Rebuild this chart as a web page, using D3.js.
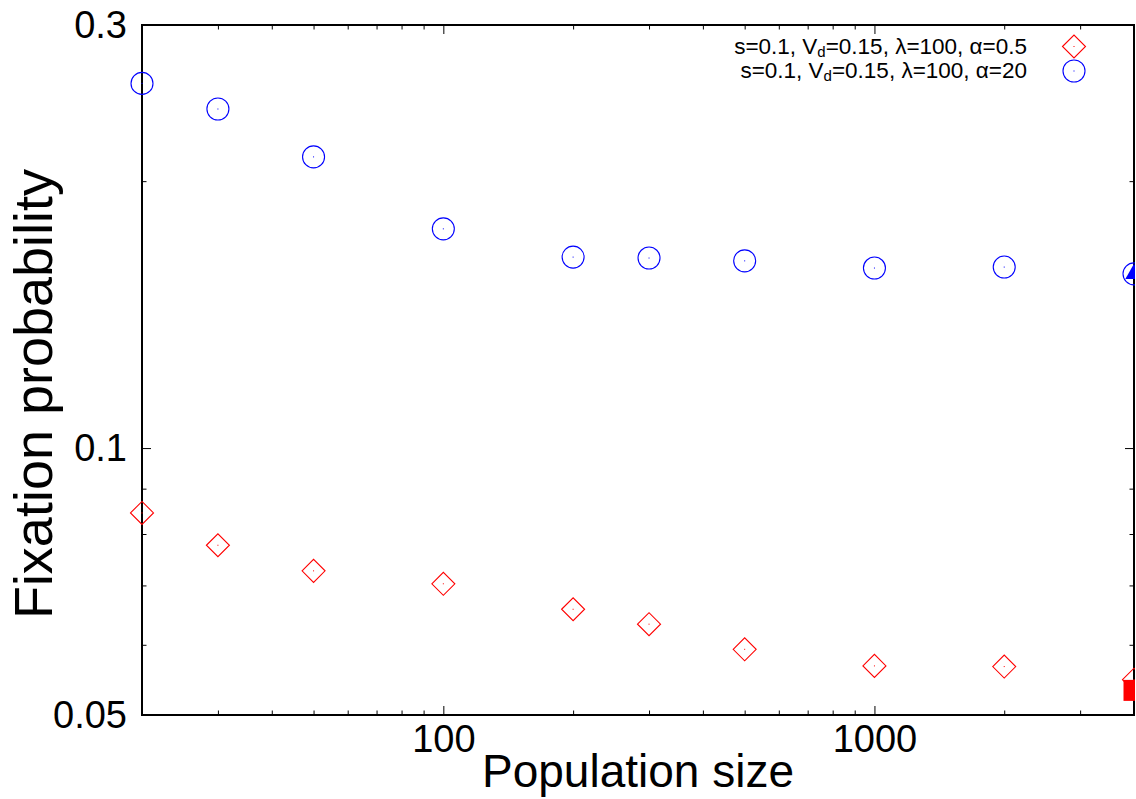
<!DOCTYPE html>
<html>
<head>
<meta charset="utf-8">
<script src="https://cdn.jsdelivr.net/npm/d3@7"></script>
<style>
  body { margin: 0; background: #fff; }
  text { font-family: "Liberation Sans", Arial, Helvetica, sans-serif; fill: #000; }
</style>
</head>
<body>
<svg id="chart" width="1136" height="799"></svg>
<script>
// Fixation probability versus population size (log-log)
const populationSizes = [20, 30, 50, 100, 200, 300, 500, 1000, 2000, 4000];
const fixAlpha05 = [0.0845, 0.0777, 0.0727, 0.0703, 0.0658, 0.0633, 0.0593, 0.0568, 0.0567, 0.0548];
const fixAlpha20 = [0.2578, 0.2412, 0.2130, 0.1767, 0.1642, 0.1638, 0.1626, 0.1596, 0.1600, 0.1572];

// large-population values drawn at the right edge
const limitN = [4000];
const limitAlpha05 = [0.0533];
const limitAlpha20 = [0.1572];

const xMajorTicks = [100, 1000];
const xMinorTicks = [20, 30, 40, 50, 60, 70, 80, 90, 200, 300, 400, 500, 600, 700, 800, 900, 2000, 3000, 4000];
const yMajorTicks = [0.05, 0.1, 0.3];
const yMinorTicks = [0.06, 0.07, 0.08, 0.09, 0.2];

const legendAlpha05 = ["s=0.1, V", "d", "=0.15, λ=100, α=0.5"];
const legendAlpha20 = ["s=0.1, V", "d", "=0.15, λ=100, α=20"];

const xLabel = "Population size";
const yLabel = "Fixation probability";

const RED = "#ff0000", BLUE = "#0000ff";

const svg = d3.select("#chart");
const plot = { left: 142, right: 1134, top: 25, bottom: 715 };

const x = d3.scaleLog().domain([20, 4000]).range([plot.left, plot.right]);
const y = d3.scaleLog().domain([0.05, 0.3]).range([plot.bottom, plot.top]);

// ---- ticks (inward, mirrored on top/right) ----
function tickAxis(axisFn, scale, values, size, translate, labels, pad) {
  const ax = axisFn(scale).tickValues(values).tickSize(-size).tickPadding(pad || 0)
    .tickFormat(labels ? d3.format("") : () => "");
  const g = svg.append("g").attr("transform", translate).call(ax);
  g.select(".domain").remove();
  g.selectAll(".tick line").attr("stroke", "#000").attr("stroke-width", 1);
  return g;
}

const MAJ = 9, MIN = 4.5;
const xb = tickAxis(d3.axisBottom, x, xMajorTicks, MAJ, `translate(0,${plot.bottom})`, true, 10);
tickAxis(d3.axisBottom, x, xMinorTicks, MIN, `translate(0,${plot.bottom})`, false);
tickAxis(d3.axisTop, x, xMajorTicks, MAJ, `translate(0,${plot.top})`, false);
tickAxis(d3.axisTop, x, xMinorTicks, MIN, `translate(0,${plot.top})`, false);

const yl = tickAxis(d3.axisLeft, y, yMajorTicks, MAJ, `translate(${plot.left},0)`, true, 15);
tickAxis(d3.axisLeft, y, yMinorTicks, MIN, `translate(${plot.left},0)`, false);
tickAxis(d3.axisRight, y, yMajorTicks, MAJ, `translate(${plot.right},0)`, false);
tickAxis(d3.axisRight, y, yMinorTicks, MIN, `translate(${plot.right},0)`, false);

xb.selectAll(".tick text").attr("font-size", 38).attr("font-family", '"Liberation Sans", Arial, sans-serif').attr("fill", "#000");
yl.selectAll(".tick text").attr("font-size", 38).attr("font-family", '"Liberation Sans", Arial, sans-serif').attr("fill", "#000")
  .text(d => d3.format("")(d));

// ---- frame ----
svg.append("rect")
  .attr("x", plot.left).attr("y", plot.top)
  .attr("width", plot.right - plot.left).attr("height", plot.bottom - plot.top)
  .attr("fill", "none").attr("stroke", "#000").attr("stroke-width", 2);

// ---- axis titles ----
svg.append("text")
  .attr("x", 638).attr("y", 787)
  .attr("text-anchor", "middle").attr("font-size", 46)
  .text(xLabel);

svg.append("text")
  .attr("transform", "translate(52,394) rotate(-90)")
  .attr("text-anchor", "middle").attr("font-size", 54)
  .text(yLabel);

// ---- markers ----
svg.append("clipPath").attr("id", "clipRight")
  .append("rect").attr("x", 0).attr("y", 0).attr("width", plot.right + 1).attr("height", 799);

const marks = svg.append("g").attr("clip-path", "url(#clipRight)");

const R = 11;
function diamondPath(cx, cy, r) {
  return `M${cx - r},${cy}L${cx},${cy - r}L${cx + r},${cy}L${cx},${cy + r}Z`;
}

const ptsRed = populationSizes.map((n, i) => ({ n, v: fixAlpha05[i] }));
const ptsBlue = populationSizes.map((n, i) => ({ n, v: fixAlpha20[i] }));

marks.selectAll("path.dia").data(ptsRed).join("path")
  .attr("class", "dia")
  .attr("d", d => diamondPath(x(d.n), y(d.v), 11.5))
  .attr("fill", "none").attr("stroke", RED).attr("stroke-width", 1.1);
marks.selectAll("rect.dotr").data(ptsRed).join("rect")
  .attr("class", "dotr")
  .attr("x", d => x(d.n) - 0.5).attr("y", d => y(d.v) - 0.5)
  .attr("width", 1).attr("height", 1).attr("fill", RED);

marks.selectAll("circle.cir").data(ptsBlue).join("circle")
  .attr("class", "cir")
  .attr("cx", d => x(d.n)).attr("cy", d => y(d.v)).attr("r", R)
  .attr("fill", "none").attr("stroke", BLUE).attr("stroke-width", 1.1);
marks.selectAll("rect.dotb").data(ptsBlue).join("rect")
  .attr("class", "dotb")
  .attr("x", d => x(d.n) - 0.5).attr("y", d => y(d.v) - 0.5)
  .attr("width", 1).attr("height", 1).attr("fill", BLUE);

// filled markers for the large-population values
marks.selectAll("path.sq").data(limitN.map((n, i) => ({ n, v: limitAlpha05[i] }))).join("path")
  .attr("class", "sq")
  .attr("transform", d => `translate(${x(d.n)},${y(d.v)})`)
  .attr("d", d3.symbol().type(d3.symbolSquare).size(441))
  .attr("fill", RED);
marks.selectAll("path.tri").data(limitN.map((n, i) => ({ n, v: limitAlpha20[i] }))).join("path")
  .attr("class", "tri")
  .attr("transform", d => `translate(${x(d.n)},${y(d.v)})`)
  .attr("d", d3.symbol().type(d3.symbolTriangle).size(130))
  .attr("fill", BLUE);

// ---- key ----
const key = svg.append("g");
const keyRows = [
  { parts: legendAlpha05, color: RED, shape: "diamond", y: 46.5 },
  { parts: legendAlpha20, color: BLUE, shape: "circle", y: 71 }
];
keyRows.forEach(row => {
  const t = key.append("text")
    .attr("x", 1027).attr("y", row.y + 7)
    .attr("text-anchor", "end").attr("font-size", 22.5);
  t.append("tspan").text(row.parts[0]);
  t.append("tspan").attr("font-size", 15).attr("dy", 3).text(row.parts[1]);
  t.append("tspan").attr("dy", -3).text(row.parts[2]);
  if (row.shape === "diamond") {
    key.append("path").attr("d", diamondPath(1074, row.y, 11.5))
      .attr("fill", "none").attr("stroke", row.color).attr("stroke-width", 1.1);
  } else {
    key.append("circle").attr("cx", 1074).attr("cy", row.y).attr("r", R)
      .attr("fill", "none").attr("stroke", row.color).attr("stroke-width", 1.1);
  }
  key.append("rect").attr("x", 1073.5).attr("y", row.y - 0.5).attr("width", 1).attr("height", 1).attr("fill", row.color);
});
</script>
</body>
</html>
